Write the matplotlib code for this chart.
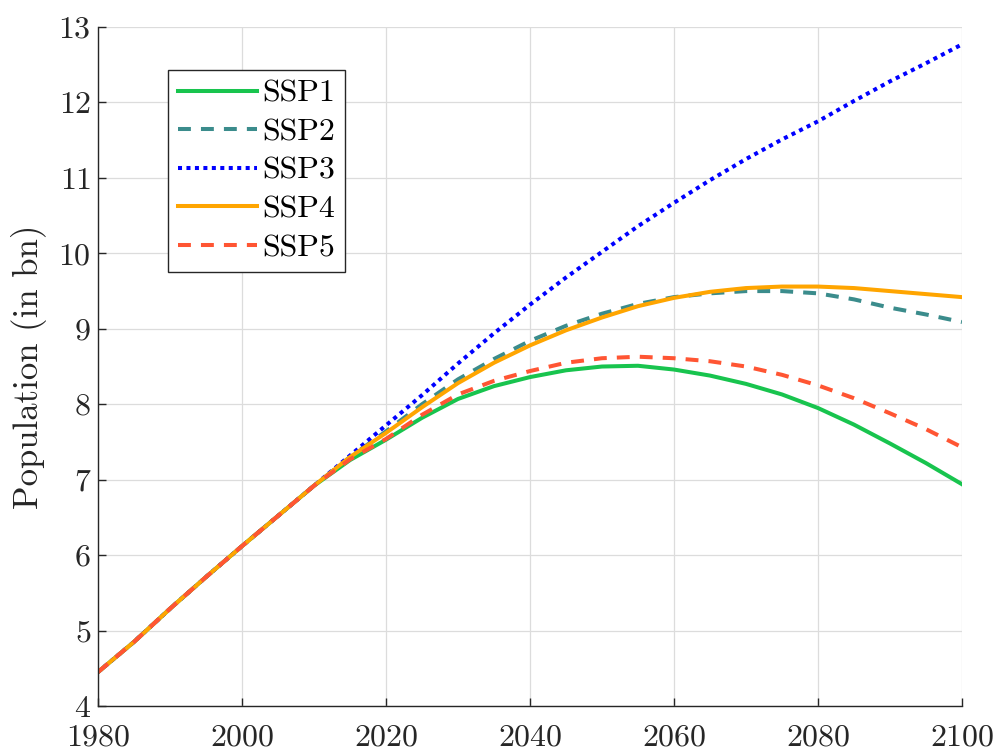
import matplotlib
matplotlib.use("Agg")
import matplotlib.pyplot as plt

plt.rcParams['font.family'] = ['cmr10', 'DejaVu Serif']
plt.rcParams['mathtext.fontset'] = 'cm'
plt.rcParams['axes.formatter.use_mathtext'] = True

years = list(range(1980, 2101, 5))

# shared history 1980-2010
hist = [4.45, 4.85, 5.29, 5.71, 6.12, 6.52, 6.92]

ssp1 = hist + [7.26, 7.53, 7.82, 8.07, 8.24, 8.36, 8.45, 8.50, 8.51, 8.46,
               8.38, 8.27, 8.13, 7.95, 7.73, 7.48, 7.22, 6.94]
ssp2 = hist + [7.30, 7.64, 8.00, 8.33, 8.60, 8.84, 9.04, 9.20, 9.33, 9.42,
               9.47, 9.50, 9.50, 9.47, 9.39, 9.28, 9.19, 9.09]
ssp3 = hist + [7.32, 7.72, 8.12, 8.54, 8.94, 9.32, 9.68, 10.02, 10.36, 10.67,
               10.97, 11.25, 11.51, 11.75, 12.02, 12.28, 12.52, 12.77]
ssp4 = hist + [7.30, 7.62, 7.96, 8.28, 8.55, 8.78, 8.98, 9.15, 9.30, 9.41,
               9.49, 9.54, 9.56, 9.56, 9.54, 9.50, 9.46, 9.42]
ssp5 = hist + [7.27, 7.54, 7.86, 8.13, 8.31, 8.44, 8.55, 8.61, 8.63, 8.61,
               8.57, 8.50, 8.39, 8.25, 8.08, 7.88, 7.67, 7.43]

labels = ['SSP1', 'SSP2', 'SSP3', 'SSP4', 'SSP5']
series = [ssp1, ssp2, ssp3, ssp4, ssp5]
colors = ['#18C44E', '#3B8C8C', '#0000FF', '#FFA500', '#FF5533']
dashes = [None, (3.2, 2.5), (1.0, 1.1), None, (3.2, 2.5)]

fig = plt.figure(figsize=(9.95, 7.51), dpi=100)
ax = fig.add_axes([0.0985, 0.0599, 0.8683, 0.9041])

for y, lab, c, d in zip(series, labels, colors, dashes):
    line, = ax.plot(years, y, color=c, lw=2.9, label=lab)
    if d is not None:
        line.set_dashes(d)

ax.set_xlim(1980, 2100)
ax.set_ylim(4, 13)
ax.set_xticks(range(1980, 2101, 20))
ax.set_yticks(range(4, 14))
ax.grid(True, color='#dcdcdc', lw=0.9)
ax.set_axisbelow(True)
for s in ['top', 'right']:
    ax.spines[s].set_visible(False)
for s in ['left', 'bottom']:
    ax.spines[s].set_color('#262626')
    ax.spines[s].set_linewidth(1.0)
ax.tick_params(direction='in', length=6, width=1.0, colors='#262626',
               labelsize=23, pad=5)
ax.tick_params(axis='x', pad=13)
ax.set_ylabel('Population (in bn)', fontsize=25, color='#262626', labelpad=8)

leg = ax.legend(loc='upper left', bbox_to_anchor=(0.081, 0.937), borderaxespad=0,
                fontsize=23, handlelength=2.5, handletextpad=0.15,
                labelspacing=0.32, borderpad=0.3, fancybox=False,
                edgecolor='#262626', framealpha=1)
leg.get_frame().set_linewidth(1.0)

fig.savefig('out.png', dpi=100)
